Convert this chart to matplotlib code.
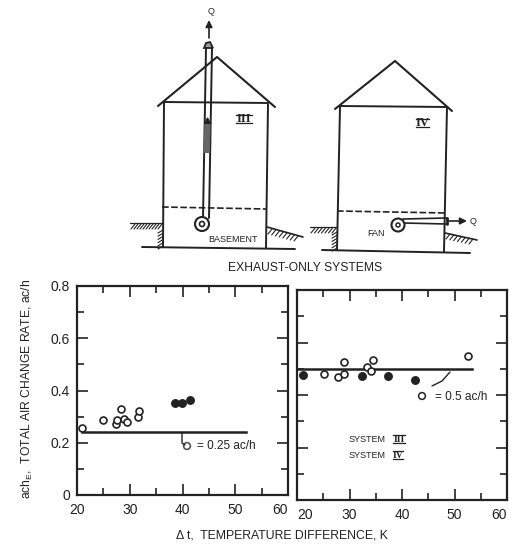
import matplotlib
matplotlib.use("Agg")
import matplotlib.pyplot as plt
from matplotlib.patches import Circle, Polygon

plt.rcParams['font.family'] = ['Liberation Sans', 'DejaVu Sans']
plt.rcParams['mathtext.default'] = 'regular'
W, H = 515, 548
INK = '#222222'

left_open_x = [21, 25, 27.4, 27.6, 28.4, 28.9, 29.5, 31.5, 31.7]
left_open_y = [.255, .287, .27, .287, .33, .29, .28, .30, .32]
left_fill_x = [38.6, 39.9, 41.4]
left_fill_y = [.352, .351, .364]
left_line_x = [21, 52]
left_line_y = [.24, .24]

right_open_x = [25.1, 27.9, 29, 29, 33.3, 34, 34.5, 52.5]
right_open_y = [.48, .47, .48, .526, .506, .493, .535, .548]
right_fill_x = [21.1, 32.4, 37.3, 42.5]
right_fill_y = [.477, .474, .471, .459]
right_line_x = [20, 53.3]
right_line_y = [.498, .498]

x_ticks = [20, 30, 40, 50, 60]
y_ticks = [0, .2, .4, .6, .8]
y_labels = ['0', '0.2', '0.4', '0.6', '0.8']

fig = plt.figure(figsize=(W / 100, H / 100), dpi=100)

def pixel_axes(l, r, t, b):
    return fig.add_axes([l / W, 1 - b / H, (r - l) / W, (b - t) / H])

bg = fig.add_axes([0, 0, 1, 1])
bg.set_xlim(0, W)
bg.set_ylim(H, 0)
bg.axis('off')

def seg(pts, lw=1.4, **kw):
    xs, ys = zip(*pts)
    bg.plot(xs, ys, color=INK, lw=lw, solid_capstyle='round', **kw)

def hatch(x0, y0, x1, y1, n, dx=-4, dy=5):
    for i in range(n + 1):
        f = i / n
        x, y = x0 + (x1 - x0) * f, y0 + (y1 - y0) * f
        seg([(x, y), (x + dx, y + dy)], lw=.8)

def roman(x, y, s, half, size=9):
    bg.text(x, y, s, fontsize=size, family='Liberation Serif', weight='bold',
            ha='center', va='center', color=INK)
    bg.plot([x - half, x + half], [y - 4, y - 4], color=INK, lw=.9)
    bg.plot([x - half, x + half], [y + 4, y + 4], color=INK, lw=.9)

# House III
seg([(158, 106), (217, 57), (275, 107)], 1.5)
seg([(164, 102), (268, 103)])
seg([(164, 103), (163, 247)])
seg([(268, 104), (266, 248)])
seg([(142, 247), (295, 249)])
bg.plot([162, 267], [207, 209], color=INK, lw=1.2, ls=(0, (4, 1.5)))
seg([(203, 218), (206, 48)])
seg([(209, 218), (212, 48)])
bg.add_patch(Polygon([(204, 48), (206, 43), (210, 42), (213, 48)], fc='#999999', ec=INK, lw=1.3))
bg.plot([206.5, 207.5], [153, 124], color='#666666', lw=4.5, solid_capstyle='butt')
bg.add_patch(Polygon([(204.5, 124), (207.5, 118), (210.5, 124)], color=INK))
bg.annotate('', xy=(209, 20), xytext=(209, 38),
            arrowprops=dict(arrowstyle='-|>', color=INK, lw=1.2, shrinkA=0, shrinkB=0))
bg.add_patch(Circle((202, 224), 7, fc='white', ec=INK, lw=1.5, zorder=3))
bg.add_patch(Circle((202, 224), 2.5, fc='white', ec=INK, lw=1.2, zorder=4))
seg([(130, 223), (162, 223)], .9)
hatch(135, 224, 162, 224, 9)
hatch(163, 230, 163, 246, 5, dx=-5, dy=3)
seg([(267, 227), (303, 237)], 1.2)
hatch(272, 229, 298, 236, 7)
bg.text(211, 11, 'Q', fontsize=6.5, ha='center', va='center', color=INK)
roman(244, 119, 'III', 8)
bg.text(233, 240, 'BASEMENT', fontsize=6.5, ha='center', va='center', color=INK)
bg.text(305, 268, 'EXHAUST-ONLY SYSTEMS', fontsize=8.7, ha='center', va='center', color=INK)

# House IV
seg([(335, 109), (395, 61), (452, 111)], 1.5)
seg([(340, 106), (447, 107)])
seg([(340, 107), (337, 250)])
seg([(447, 107), (444, 252)])
seg([(322, 250), (470, 253)])
bg.plot([337, 446], [211, 213], color=INK, lw=1.2, ls=(0, (4, 1.5)))
seg([(403, 219), (447, 218)], 1.2)
seg([(403, 223), (447, 224)], 1.2)
seg([(447, 218), (447, 224)], 2)
bg.add_patch(Circle((398, 225), 6.5, fc='white', ec=INK, lw=1.5, zorder=3))
bg.add_patch(Circle((398, 225), 2, fc='white', ec=INK, lw=1.1, zorder=4))
seg([(310, 227), (337, 227)], .9)
hatch(315, 228, 336, 228, 6)
hatch(337, 232, 337, 248, 5, dx=-5, dy=3)
seg([(445, 233), (477, 240)], 1.2)
hatch(450, 234, 473, 239, 6)
bg.annotate('', xy=(467, 221), xytext=(448, 221),
            arrowprops=dict(arrowstyle='-|>', color=INK, lw=1.2, shrinkA=0, shrinkB=0))
bg.text(473, 222, 'Q', fontsize=6.5, ha='center', va='center', color=INK)
roman(422, 123, 'IV', 6.5)
bg.text(376, 233, 'FAN', fontsize=6.5, ha='center', va='center', color=INK)

def panel(box, ox, oy, fx, fy, lx, ly):
    ax = pixel_axes(*box)
    ax.set_xlim(20, 60)
    ax.set_ylim(0, .8)
    for s in ax.spines.values():
        s.set_linewidth(1.6)
        s.set_color(INK)
    ax.set_xticks(x_ticks)
    ax.set_xticks([25, 35, 45, 55], minor=True)
    ax.set_yticks(y_ticks)
    ax.set_yticks([.1, .3, .5, .7], minor=True)
    ax.tick_params(which='major', direction='in', length=8, width=1.2, color=INK, top=True, right=True)
    ax.tick_params(which='minor', direction='in', length=5, width=1.2, color=INK, top=True, right=True)
    ax.tick_params(labelsize=10, colors=INK)
    ax.tick_params(axis='x', pad=6)
    ax.tick_params(axis='y', pad=5)
    ax.plot(lx, ly, color=INK, lw=1.8, zorder=2)
    ax.plot(ox, oy, 'o', ms=5, mfc='white', mec=INK, mew=1.2, zorder=3, clip_on=False)
    ax.plot(fx, fy, 'o', ms=5.4, mfc=INK, mec=INK, zorder=3, clip_on=False)
    return ax

a = panel((77, 288, 286, 495), left_open_x, left_open_y, left_fill_x, left_fill_y, left_line_x, left_line_y)
a.set_yticklabels(y_labels)
a.get_xticklabels()[-1].set_ha('right')
b = panel((297, 507, 290, 500), right_open_x, right_open_y, right_fill_x, right_fill_y, right_line_x, right_line_y)
b.set_yticklabels([])
b.get_xticklabels()[0].set_ha('left')
b.get_xticklabels()[-1].set_ha('right')

# Callouts and annotations placed in figure pixels
bg.set_zorder(5)
bg.patch.set_alpha(0)
seg([(182, 433), (182, 443), (185, 445)], 1)
bg.add_patch(Circle((187, 446), 3.4, fc='white', ec='#555555', lw=1.2))
bg.text(197, 446, '= 0.25 ac/h', fontsize=8.5, ha='left', va='center', color=INK)
seg([(432, 386), (442, 381), (450, 372)], 1)
bg.add_patch(Circle((422, 396), 3.4, fc='white', ec=INK, lw=1.1))
bg.text(435, 397, '= 0.5 ac/h', fontsize=8.6, ha='left', va='center', color=INK)
bg.text(349, 439, 'SYSTEM', fontsize=6.5, ha='left', va='center', color=INK)
roman(399, 439, 'III', 6, size=7)
bg.text(349, 455, 'SYSTEM', fontsize=6.5, ha='left', va='center', color=INK)
roman(398, 455, 'IV', 5, size=7)

bg.text(282, 535, '\u0394 t,  TEMPERATURE DIFFERENCE, K', fontsize=8.8, ha='center', va='center', color=INK)
bg.text(27, 389, 'ach$_{E}$,  TOTAL AIR CHANGE RATE, ac/h', fontsize=8.7, rotation=90,
        ha='center', va='center', color=INK)

fig.savefig('out.png', dpi=100)
